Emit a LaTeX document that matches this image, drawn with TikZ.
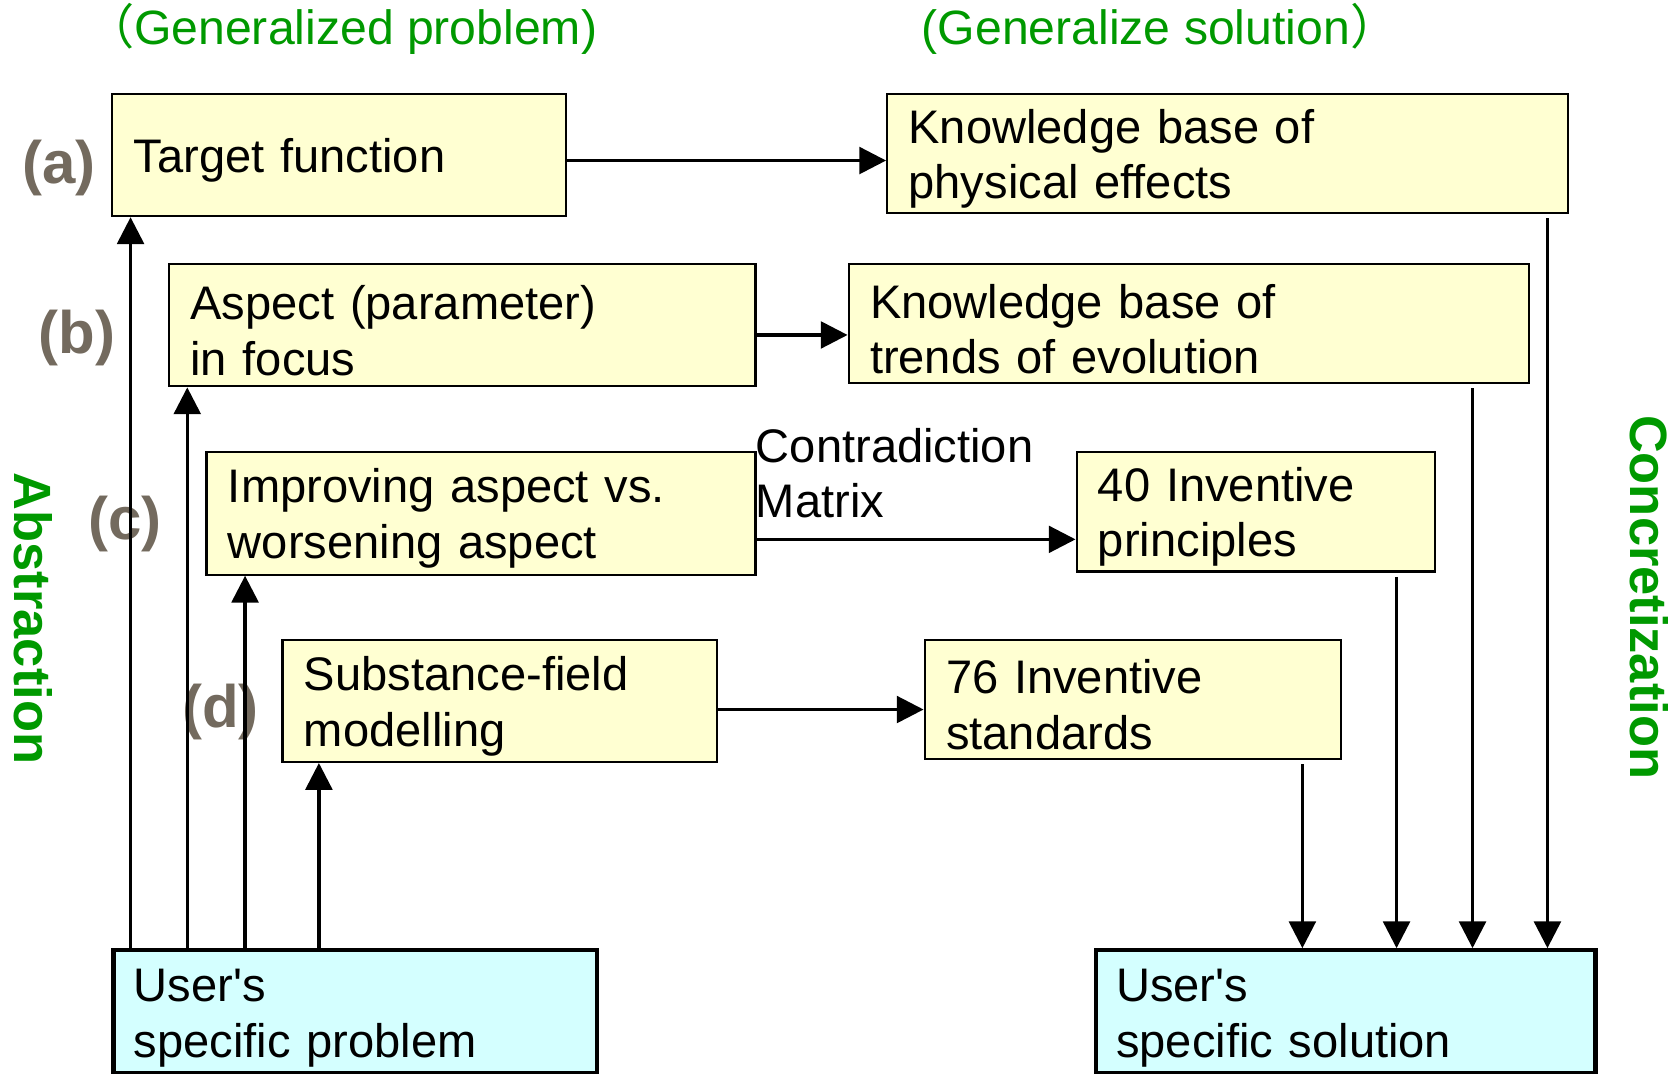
\documentclass[tikz,border=0pt]{standalone}
\usepackage{fontspec}
\setmainfont{Liberation Sans}
\newfontfamily\cjk{Noto Sans CJK SC}
\newfontfamily\plainsans{Liberation Sans}
\usetikzlibrary{arrows.meta}
\definecolor{boxyellow}{RGB}{255,255,210}
\definecolor{boxcyan}{RGB}{212,255,255}
\definecolor{titlegreen}{RGB}{0,153,0}
\definecolor{labelgray}{RGB}{115,106,94}
\newcommand{\apos}{{\plainsans\char"0027\relax}}

\begin{document}
\begin{tikzpicture}[x=0.5pt,y=-0.5pt,
  base/.style={draw, line width=1pt, anchor=north west, align=left,
    inner xsep=10pt, inner ysep=0pt, font=\fontsize{22}{26}\selectfont,
    execute at begin node={\rule{0pt}{21pt}}},
  ybox/.style={base, fill=boxyellow},
  ubox/.style={base, fill=boxcyan, line width=2pt},
  arr/.style={line width=1.5pt, -{Triangle[length=12.5pt,width=12.5pt]}},
  tag/.style={font=\fontsize{28}{30}\selectfont\bfseries, text=labelgray, inner sep=0pt},
  side/.style={font=\fontsize{24.5}{28}\selectfont\bfseries, text=titlegreen,
    rotate=-90, inner sep=0pt},
  head/.style={font=\fontsize{22.5}{26}\selectfont, text=titlegreen, inner sep=0pt, anchor=west},
]
\useasboundingbox (0,0) rectangle (1568,1003);

% column headings
\node[head] (hp) at (125,27) {\llap{\cjk （}Generalized problem)};
\node[head] (hs) at (861,27) {(Generalize solution\rlap{\cjk ）}};

% side captions
\node[side] (abs) at (31,578) {Abstraction};
\node[side] (con) at (1541,558) {Concretization};

% level tags
\node[tag] (ta) at (55,157) {(a)};
\node[tag] (tb) at (72,316) {(b)};
\node[tag] (tc) at (117,490) {(c)};
\node[tag] (td) at (206,665) {(d)};

% generalized problems
\node[ybox, text width=192pt, minimum height=57pt] (tf) at (104,87) {Target function};
\node[ybox, text width=254pt, minimum height=57pt] (asp) at (157,246) {Aspect (parameter)\\in focus};
\node[ybox, text width=236.5pt, minimum height=57.5pt] (imp) at (192,421) {Improving aspect vs.\\worsening aspect};
\node[ybox, text width=183pt, minimum height=57pt] (suf) at (263,597) {Substance-field\\modelling};

% generalized solutions
\node[ybox, text width=298pt, minimum height=55.5pt] (kpe) at (828,87) {Knowledge base of\\physical effects};
\node[ybox, text width=298pt, minimum height=55.5pt] (kte) at (792,246) {Knowledge base of\\trends of evolution};
\node[ybox, text width=147.5pt, minimum height=56pt] (ip) at (1005,421) {40 Inventive\\principles};
\node[ybox, text width=174.5pt, minimum height=55.5pt] (is) at (863,597) {76 Inventive\\standards};

% specific problem and solution
\node[ubox, text width=207pt, minimum height=57.5pt, inner xsep=9.5pt] (usp) at (104,886) {User\apos s\\specific problem};
\node[ubox, text width=214.5pt, minimum height=57.5pt, inner xsep=9.5pt] (uss) at (1022,886) {User\apos s\\specific solution};

\node[font=\fontsize{22}{26}\selectfont, align=left, anchor=west, inner sep=0pt] (cm) at (706,442) {Contradiction\\Matrix};

% connector positions
\coordinate (h1) at (0,150);
\coordinate (h2) at (0,313);
\coordinate (h3) at (0,504);
\coordinate (h4) at (0,663);
\coordinate (u1) at (122,0);
\coordinate (u2) at (175,0);
\coordinate (u3) at (229,0);
\coordinate (u4) at (298,0);
\coordinate (d1) at (1446,0);
\coordinate (d2) at (1376,0);
\coordinate (d3) at (1305,0);
\coordinate (d4) at (1217,0);

% problem to solution
\draw[arr] (tf.east |- h1) -- (kpe.west |- h1);
\draw[arr] (asp.east |- h2) -- (kte.west |- h2);
\draw[arr] (imp.east |- h3) -- (ip.west |- h3);
\draw[arr] (suf.east |- h4) -- (is.west |- h4);

% abstraction
\draw[arr] (usp.north -| u1) -- (tf.south -| u1);
\draw[arr] (usp.north -| u2) -- (asp.south -| u2);
\draw[arr] (usp.north -| u3) -- (imp.south -| u3);
\draw[arr] (usp.north -| u4) -- (suf.south -| u4);

% concretization
\draw[arr, shorten <=2pt] (kpe.south -| d1) -- (uss.north -| d1);
\draw[arr, shorten <=2pt] (kte.south -| d2) -- (uss.north -| d2);
\draw[arr, shorten <=2pt] (ip.south -| d3) -- (uss.north -| d3);
\draw[arr, shorten <=2pt] (is.south -| d4) -- (uss.north -| d4);
\end{tikzpicture}
\end{document}
